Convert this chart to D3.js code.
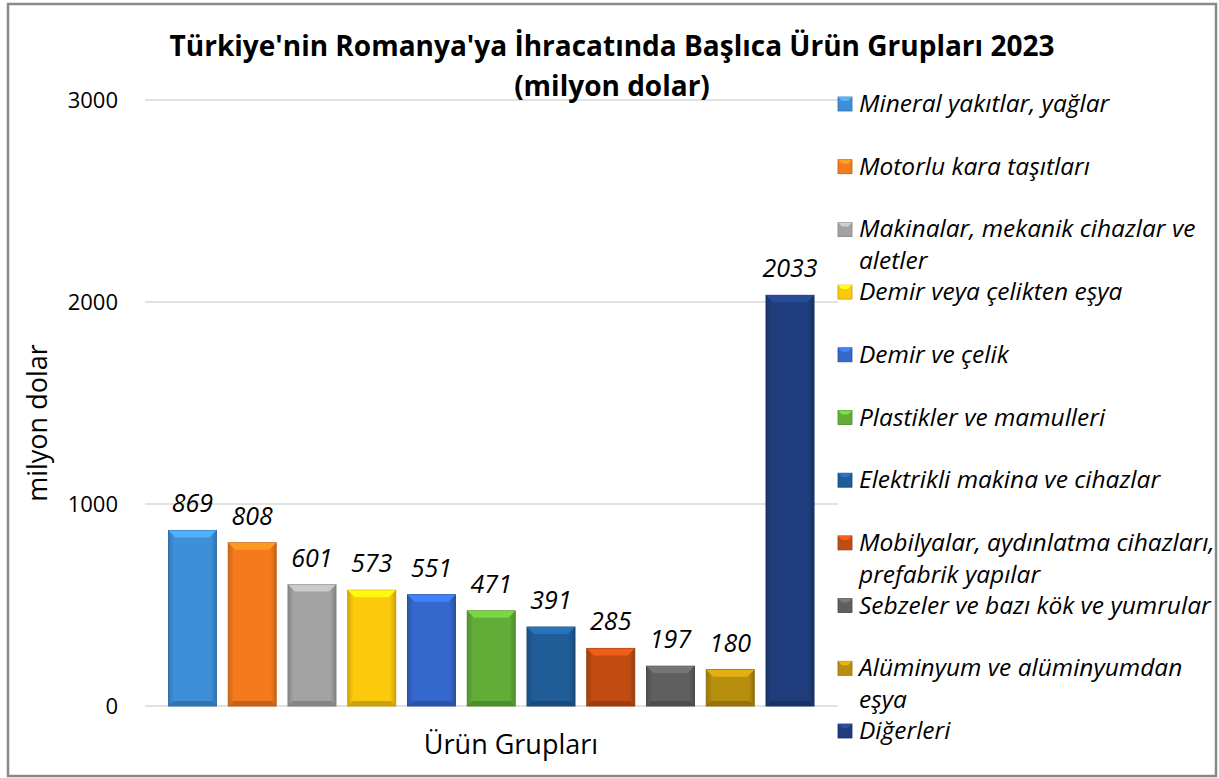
<!DOCTYPE html>
<html>
<head>
<meta charset="utf-8">
<script src="https://cdn.jsdelivr.net/npm/d3@7"></script>
<style>
  html, body { margin: 0; padding: 0; background: #fff; }
  svg { display: block; font-family: "Open Sans", sans-serif; }
</style>
</head>
<body>
<svg id="chart" width="1219" height="778"></svg>
<script>
// Türkiye -> Romanya ihracatı, başlıca ürün grupları 2023 (milyon dolar)
const categories = [
  'Mineral yakıtlar, yağlar',
  'Motorlu kara taşıtları',
  'Makinalar, mekanik cihazlar ve aletler',
  'Demir veya çelikten eşya',
  'Demir ve çelik',
  'Plastikler ve mamulleri',
  'Elektrikli makina ve cihazlar',
  'Mobilyalar, aydınlatma cihazları, prefabrik yapılar',
  'Sebzeler ve bazı kök ve yumrular',
  'Alüminyum ve alüminyumdan eşya',
  'Diğerleri'
];
const values = [869, 808, 601, 573, 551, 471, 391, 285, 197, 180, 2033];
const colors = ['#3f8fd8', '#f47a1c', '#a3a3a3', '#fdc90c', '#3468cc', '#62ad38',
                '#1f5c98', '#c04c12', '#5f5f5f', '#b88e0e', '#1f3d7c'];
const yTicks = [0, 1000, 2000, 3000];

const svg = d3.select('#chart');
const x = d3.scaleBand().domain(categories).range([162.6, 819.9]).paddingInner(0.197).paddingOuter(0.0985);
const y = d3.scaleLinear().domain([0, 3000]).range([706, 100]);

// outer frame
svg.append('rect').attr('x', 8).attr('y', 4).attr('width', 1208).attr('height', 772)
  .attr('fill', '#fff').attr('stroke', '#898989').attr('stroke-width', 2.5);

// gridlines
svg.append('g').selectAll('line').data(yTicks).enter().append('line')
  .attr('x1', 145).attr('x2', 838).attr('y1', d => y(d)).attr('y2', d => y(d))
  .attr('stroke', '#d9d9d9').attr('stroke-width', 1.3);

// y axis labels
const yAxis = svg.append('g').attr('transform', 'translate(128,0)')
  .call(d3.axisLeft(y).tickValues(yTicks).tickFormat(d3.format('d')).tickSize(0).tickPadding(10));
yAxis.select('.domain').remove();
yAxis.selectAll('text').attr('font-size', 22).attr('fill', '#000')
  .attr('font-family', '"Open Sans", sans-serif');

// bevel gradients
const defs = svg.append('defs');
colors.forEach((c, i) => {
  const gr = defs.append('linearGradient').attr('id', 'bg' + i).attr('x1', 0).attr('x2', 1).attr('y1', 0).attr('y2', 0);
  gr.append('stop').attr('offset', '0%').attr('stop-color', d3.color(c).darker(0.5));
  gr.append('stop').attr('offset', '12%').attr('stop-color', c);
  gr.append('stop').attr('offset', '88%').attr('stop-color', c);
  gr.append('stop').attr('offset', '100%').attr('stop-color', d3.color(c).darker(0.6));
});

const bw = x.bandwidth();
const bars = svg.append('g').selectAll('g').data(values).enter().append('g');
bars.append('rect')
  .attr('x', (d, i) => x(categories[i])).attr('y', d => y(d))
  .attr('width', bw).attr('height', d => y(0) - y(d))
  .attr('fill', (d, i) => 'url(#bg' + i + ')')
  .attr('stroke', (d, i) => d3.color(colors[i]).darker(0.7)).attr('stroke-width', 1);
// top bevel
bars.append('path')
  .attr('d', (d, i) => {
    const x0 = x(categories[i]), y0 = y(d), b = 7;
    return `M${x0},${y0} L${x0 + bw},${y0} L${x0 + bw - b},${y0 + b} L${x0 + b},${y0 + b} Z`;
  })
  .attr('fill', (d, i) => d3.color(colors[i]).brighter(0.6));
// bottom bevel
bars.append('path')
  .attr('d', (d, i) => {
    const x0 = x(categories[i]), y0 = y(0), b = 5;
    return `M${x0},${y0} L${x0 + bw},${y0} L${x0 + bw - b},${y0 - b} L${x0 + b},${y0 - b} Z`;
  })
  .attr('fill', (d, i) => d3.color(colors[i]).darker(0.6));

// value labels
svg.append('g').selectAll('text').data(values).enter().append('text')
  .attr('x', (d, i) => x(categories[i]) + bw / 2).attr('y', d => y(d) - 18)
  .attr('text-anchor', 'middle').attr('font-size', 25).attr('font-style', 'italic')
  .attr('fill', '#000').text(d => d);

// title
const title = svg.append('text').attr('x', 612).attr('text-anchor', 'middle')
  .attr('font-size', 28).attr('font-weight', 'bold').attr('fill', '#000');
title.append('tspan').attr('x', 612).attr('y', 56).text("Türkiye'nin Romanya'ya İhracatında Başlıca Ürün Grupları 2023");
title.append('tspan').attr('x', 612).attr('y', 96).text('(milyon dolar)');

// axis titles
svg.append('text').attr('transform', 'translate(47,423) rotate(-90)')
  .attr('text-anchor', 'middle').attr('font-size', 27).attr('fill', '#000').text('milyon dolar');
svg.append('text').attr('x', 511).attr('y', 754).attr('text-anchor', 'middle')
  .attr('font-size', 27).attr('fill', '#000').text('Ürün Grupları');

// legend
const legY = d3.scalePoint().domain(categories).range([104, 731]);
const leg = svg.append('g').selectAll('g').data(categories).enter().append('g')
  .attr('transform', d => `translate(838,${legY(d)})`);
leg.append('rect').attr('x', 0).attr('y', -7).attr('width', 14).attr('height', 14)
  .attr('fill', (d, i) => colors[i]).attr('stroke', (d, i) => d3.color(colors[i]).darker(0.7)).attr('stroke-width', 0.8);
leg.append('path').attr('d', 'M0,-7 L14,-7 L10,-3 L4,-3 Z').attr('fill', (d, i) => d3.color(colors[i]).brighter(0.7));
leg.append('text').attr('x', 21).attr('y', 8).attr('font-size', 24.5).attr('font-style', 'italic')
  .attr('fill', '#000')
  .each(function (d) {
    const t = d3.select(this), words = d.split(' ');
    let line = [], tspan = t.append('tspan').attr('x', 21).attr('dy', 0);
    words.forEach(w => {
      line.push(w);
      tspan.text(line.join(' '));
      if (tspan.node().getComputedTextLength() > 356 && line.length > 1) {
        line.pop();
        tspan.text(line.join(' '));
        line = [w];
        tspan = t.append('tspan').attr('x', 21).attr('dy', 32).text(w);
      }
    });
  });
</script>
</body>
</html>
